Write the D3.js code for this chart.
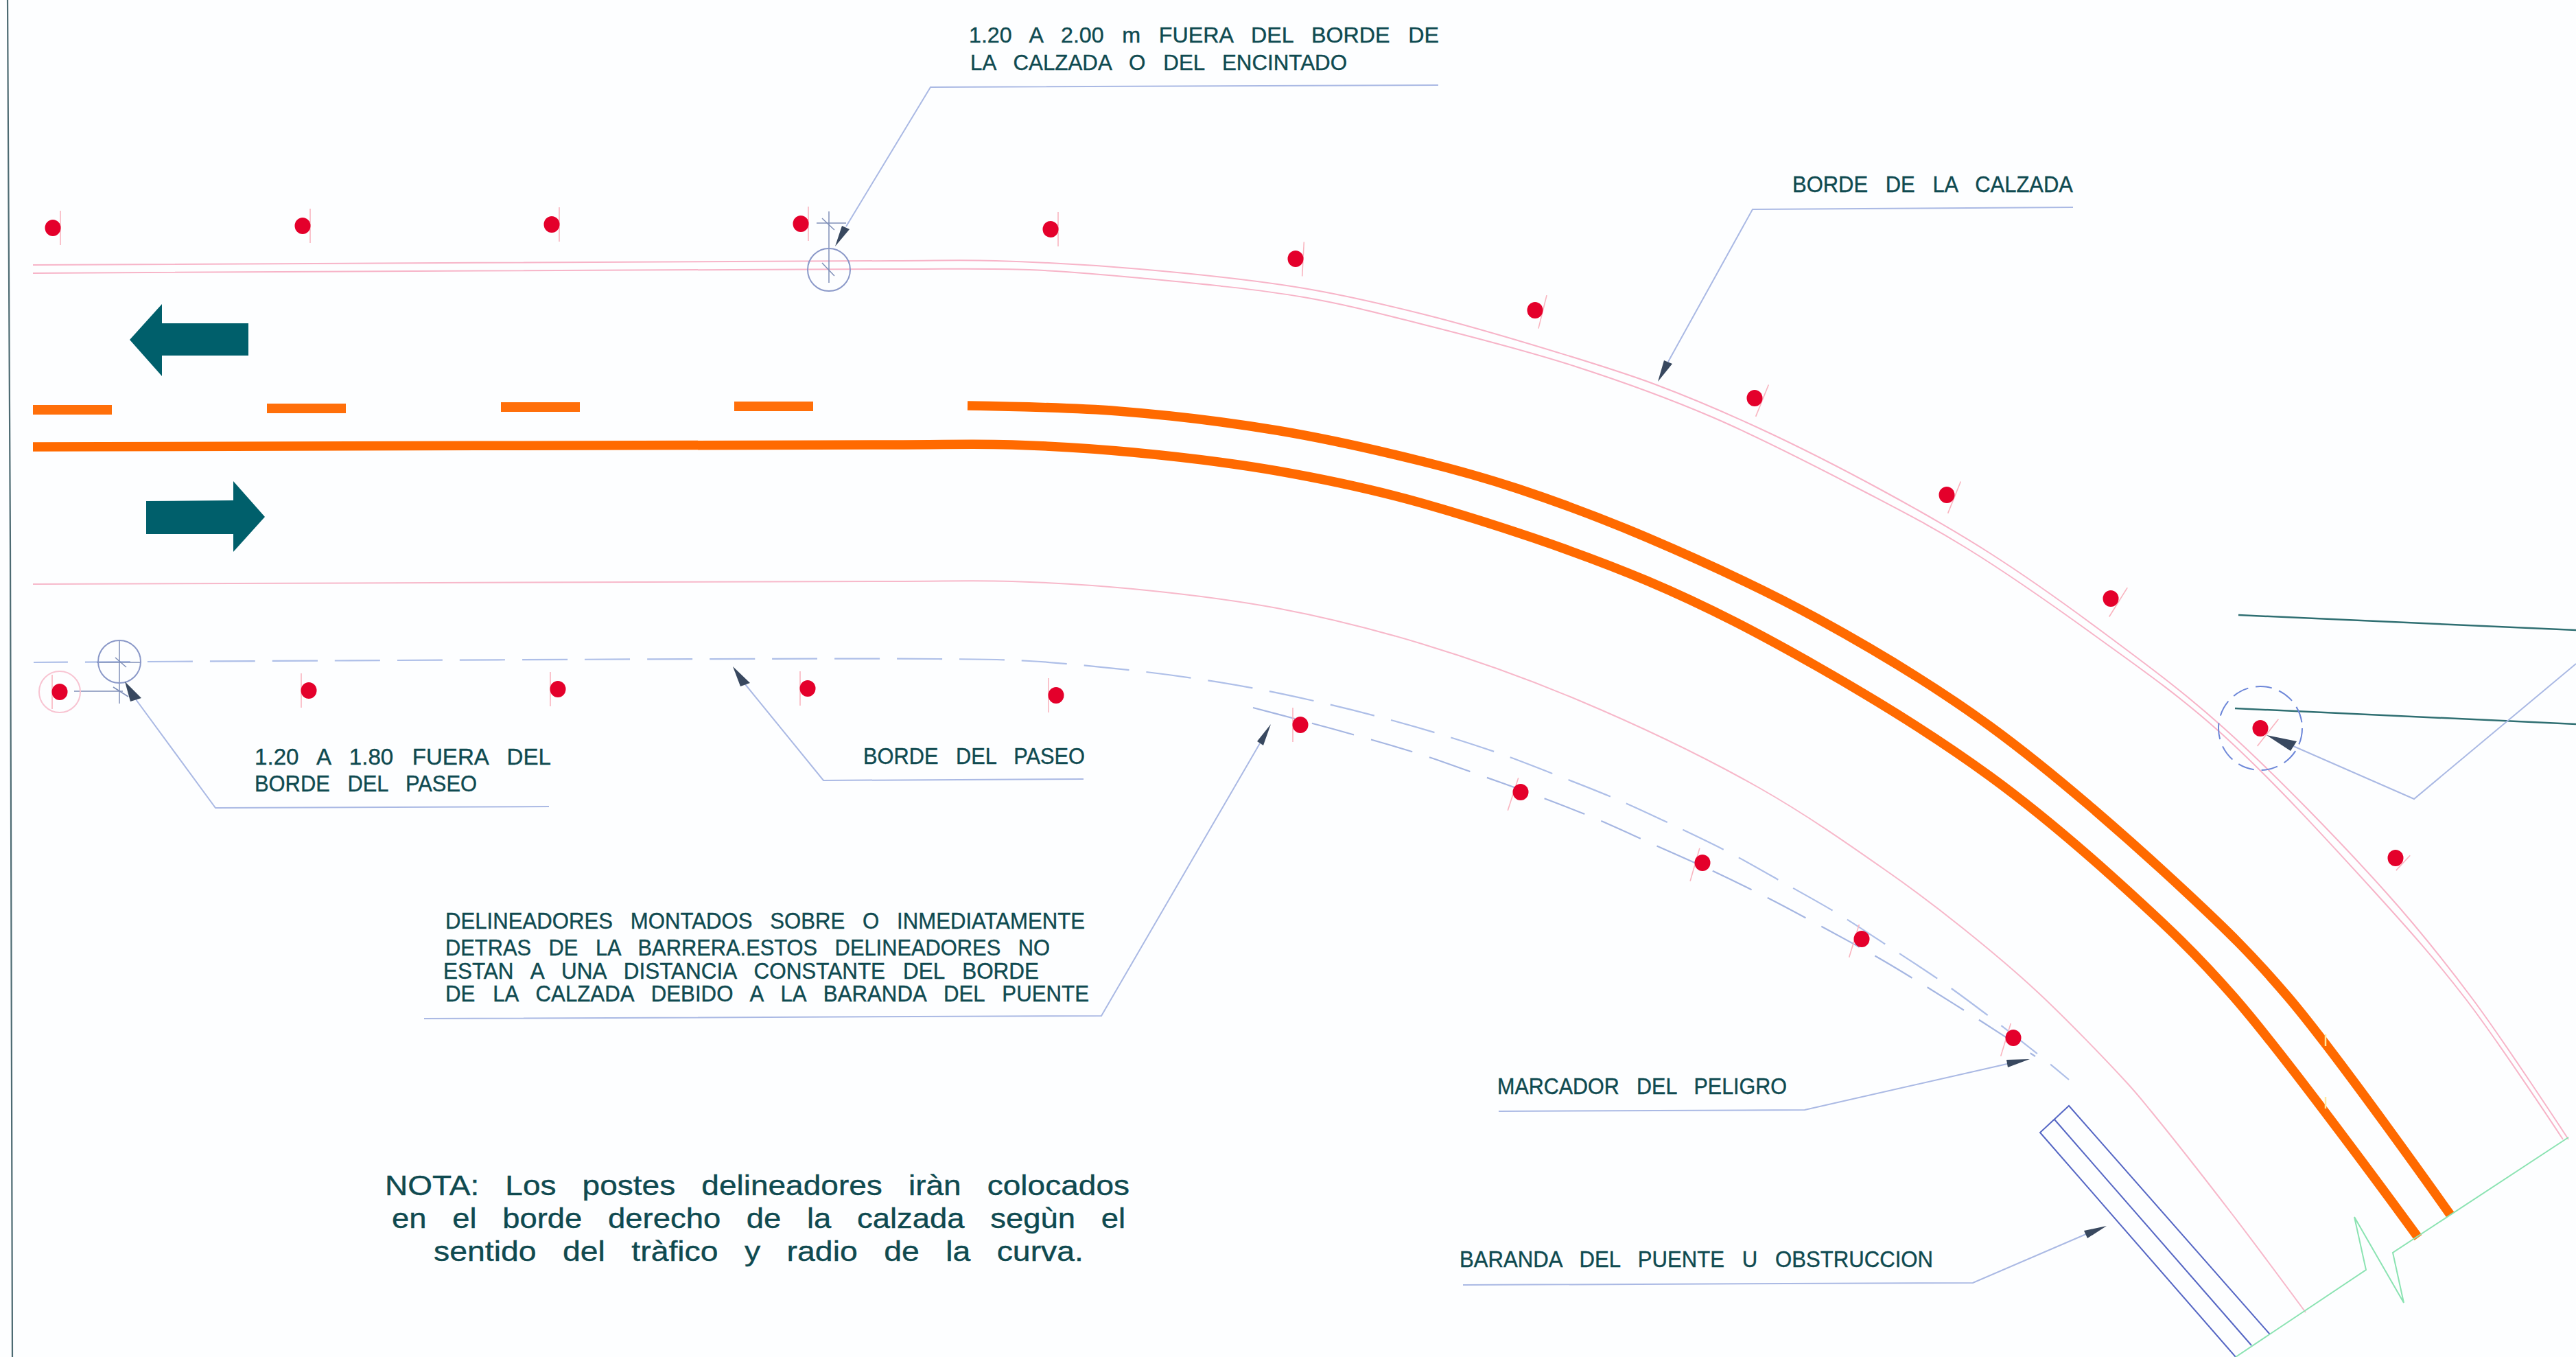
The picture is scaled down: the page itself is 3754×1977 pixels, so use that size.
<!DOCTYPE html>
<html>
<head>
<meta charset="utf-8">
<script src="https://cdn.jsdelivr.net/npm/d3@7"></script>
<style>
html, body { margin: 0; padding: 0; background: #fdfeff; }
svg { display: block; }
</style>
</head>
<body>
<script>
const width = 3754, height = 1977;

// plan readings, taken in picture pixels off the drawing
// [x, y] along the road
const edgeOuterA = [[48,386],[1300,380],[1451,380],[1661,392],[1900,420],[2075,458],[2265,512],[2412,560],[2566,625],[2742,714],[2900,806],[3070,925],[3240,1060],[3477,1300],[3603,1455],[3743,1660]];
const edgeOuterB = [[48,398],[1300,392],[1500,393],[1661,405],[1900,433],[2075,473],[2293,533],[2496,608],[2728,722],[2865,798],[3050,924],[3232,1064],[3461,1300],[3593,1455],[3735,1660]];
const edgeInner = [[48,851],[1300,847],[1475,847],[1651,858],[1861,886],[2072,938],[2300,1020],[2564,1148],[2751,1270],[2860,1352],[2969,1445],[3100,1578],[3134,1618],[3253,1769],[3360,1912]];
const centreUpper = [[1410,591],[1630,599],[1861,627],[2072,672],[2212,712],[2400,783],[2650,902],[2900,1058],[3186,1300],[3334,1452],[3571,1770]];
const centreLower = [[48,651],[1300,648],[1475,648],[1651,659],[1861,686],[2072,733],[2400,846],[2650,972],[2900,1131],[3100,1297],[3255,1452],[3524,1803]];
const paseoUpper = [[49,965],[1367,960],[1500,963],[1653,977],[1745,989],[1834,1004],[1923,1023],[2012,1045],[2100,1070],[2186,1098],[2270,1130],[2355,1164],[2438,1202],[2520,1242],[2599,1286],[2678,1331],[2754,1380],[2831,1431],[2903,1484],[2975,1540],[3015,1573]];
const paseoLower = [[1826,1031],[1883,1046],[1982,1073],[2070,1099],[2156,1129],[2242,1160],[2326,1193],[2409,1230],[2492,1267],[2576,1308],[2655,1350],[2735,1394],[2813,1441],[2889,1489],[2966,1539]];

// dashes of the centre line
const dashStart = [48, 389, 730, 1070];
const dashEnd = [163, 504, 845, 1185];
const dashY = [597, 595, 593, 592];

// delineators, tilt in degrees of the little post
const topPostX = [77, 441, 804, 1167, 1531, 1888, 2237, 2557, 2837, 3076, 3294, 3491];
const topPostY = [332, 329, 327, 326, 334, 377, 452, 580, 721, 872, 1061, 1250];
const topPostTilt = [0, 0, 0, 0, 0, 3, 14, 22, 22, 32, 38, 43];
const lowPostX = [87, 450, 813, 1177, 1539, 1895, 2216, 2481, 2713, 2934];
const lowPostY = [1008, 1006, 1004, 1003, 1013, 1056, 1154, 1257, 1368, 1512];
const lowPostTilt = [0, 0, 0, 0, 0, 0, 18, 16, 17, 17];

// bridge rail and end of the plan
const railOuter = [[3258,1977],[2973,1650],[3015,1611],[3308,1944]];
const railMiddle = [[2994,1631],[3281,1960]];
const breakLine = [[3258,1977],[3448,1850],[3431,1773],[3503,1898],[3487,1825],[3743,1657]];
const frameLine = [[11,0],[15,800],[18,1977]];
const tealLines = [[[3262,896],[3754,918]], [[3257,1032],[3754,1055]]];
const orangeCuts = [[[3389,1507],[3389,1524]], [[3389,1598],[3389,1615]]];

const arrowLeft = [[189,495],[236,443],[236,471],[362,471],[362,518],[236,518],[236,548]];
const arrowRight = [[213,730],[340,729],[340,701],[386,753],[340,804],[340,778],[213,778]];

// leaders
const leaders = [
  [[2096,124],[1356,127],[1233,330]],
  [[3021,302],[2554,305],[2431,527]],
  [[800,1175],[314,1177],[198,1019]],
  [[1579,1135],[1200,1137],[1086,997]],
  [[618,1484],[1605,1480],[1836,1083]],
  [[2184,1619],[2630,1617],[2925,1550]],
  [[2132,1872],[2875,1869],[3040,1798]],
  [[3342,1087],[3518,1164],[3754,967]]
];
const leaderHeads = [
  [[1217,359],[1227,329],[1238,334]],
  [[2416,556],[2425,525],[2437,530]],
  [[182,993],[190,1022],[206,1017]],
  [[1068,971],[1079,1000],[1093,995]],
  [[1852,1055],[1832,1080],[1841,1086]],
  [[2958,1543],[2924,1544],[2926,1555]],
  [[3070,1786],[3037,1793],[3042,1804]],
  [[3303,1071],[3347,1080],[3338,1094]]
];

// construction marks round the posts
const crossLines = [
  [[1208,308],[1208,412]], [[1190,325],[1233,325]], [[1198,318],[1216,335]], [[1198,383],[1216,402]],
  [[174,934],[174,1025]], [[141,965],[206,965]], [[168,958],[184,972]], [[108,1007],[179,1007]], [[165,1001],[187,1015]]
];
const markCircles = [[1208, 393, 31], [174, 964, 31]];

const labels = [
  "1.20 A 2.00 m FUERA DEL BORDE DE", "LA CALZADA O DEL ENCINTADO", "BORDE DE LA CALZADA",
  "1.20 A 1.80 FUERA DEL", "BORDE DEL PASEO", "BORDE DEL PASEO",
  "DELINEADORES MONTADOS SOBRE O INMEDIATAMENTE", "DETRAS DE LA BARRERA.ESTOS DELINEADORES NO",
  "ESTAN A UNA DISTANCIA CONSTANTE DEL BORDE", "DE LA CALZADA DEBIDO A LA BARANDA DEL PUENTE",
  "MARCADOR DEL PELIGRO", "BARANDA DEL PUENTE U OBSTRUCCION",
  "NOTA: Los postes delineadores iràn colocados", "en el borde derecho de la calzada segùn el", "sentido del tràfico y radio de la curva."
];
const labelStart = [1412, 1414, 2612, 371, 371, 1258, 649, 649, 646, 649, 2182, 2127, 561, 571, 632];
const labelEnd = [2097, 1963, 3021, 803, 695, 1581, 1581, 1530, 1514, 1587, 2604, 2817, 1646, 1640, 1579];
const labelBase = [62, 102, 280, 1114, 1153, 1113, 1353, 1392, 1426, 1459, 1594, 1846, 1741, 1789, 1837];
const labelCap = [31, 31, 34, 34, 34, 34, 33, 33, 33, 33, 33, 33, 41, 41, 41];

const x = d3.scaleLinear().domain([0, 3754]).range([0, width]);
const y = d3.scaleLinear().domain([0, 1977]).range([0, height]);

const svg = d3.select("body").append("svg")
  .attr("width", width)
  .attr("height", height)
  .style("background", "#fdfeff");

const curve = d3.line().x(d => x(d[0])).y(d => y(d[1])).curve(d3.curveCatmullRom.alpha(0.5));
const straight = d3.line().x(d => x(d[0])).y(d => y(d[1]));

function drawPath(gen, pts, color, w, dash) {
  let p = svg.append("path")
    .attr("d", gen(pts))
    .attr("fill", "none")
    .attr("stroke", color)
    .attr("stroke-width", w);
  if (dash) p.attr("stroke-dasharray", dash);
  return p;
}

drawPath(straight, frameLine, "#4c6a72", 2.2);

// road edges
drawPath(curve, edgeOuterA, "#f7b4c8", 2);
drawPath(curve, edgeOuterB, "#f7b4c8", 2);
drawPath(curve, edgeInner, "#f7b8ca", 2);

// shoulder dashed
drawPath(curve, paseoUpper, "#aebfe8", 2.2, "66 25").attr("stroke-dashoffset", 16);
drawPath(curve, paseoLower, "#a5b6e2", 2.2, "63 26");

// centre lines
drawPath(curve, centreUpper, "#ff6a00", 13.5);
drawPath(curve, centreLower, "#ff6a00", 13.5);
dashStart.forEach((d, i) => {
  drawPath(straight, [[d, dashY[i]], [dashEnd[i], dashY[i]]], "#ff6f0a", 14);
});
orangeCuts.forEach(c => drawPath(straight, c, "#ffe9a0", 2.5));

// direction arrows
[arrowLeft, arrowRight].forEach(a => {
  svg.append("path").attr("d", straight(a) + "Z").attr("fill", "#005f6b");
});

// rail and break line
drawPath(straight, railOuter, "#5566c4", 2);
drawPath(straight, railMiddle, "#5566c4", 2);
drawPath(straight, breakLine, "#8be3b2", 2);

// teal lines on the right
tealLines.forEach(t => drawPath(straight, t, "#2f6f72", 2.5));

// marks round posts
crossLines.forEach(c => drawPath(straight, c, "#7f8fb8", 1.5));
markCircles.forEach(c => {
  svg.append("circle")
    .attr("cx", x(c[0])).attr("cy", y(c[1])).attr("r", c[2])
    .attr("fill", "none").attr("stroke", "#8a98c8").attr("stroke-width", 2);
});
svg.append("circle")
  .attr("cx", x(87)).attr("cy", y(1008)).attr("r", 30)
  .attr("fill", "none").attr("stroke", "#f8c4d2").attr("stroke-width", 2);
svg.append("circle")
  .attr("cx", x(3294)).attr("cy", y(1061)).attr("r", 61)
  .attr("fill", "none").attr("stroke", "#6c86d8").attr("stroke-width", 2)
  .attr("stroke-dasharray", "24 11");

// leaders
leaders.forEach(l => drawPath(straight, l, "#aab9e4", 2));
leaderHeads.forEach(h => {
  svg.append("path").attr("d", straight(h) + "Z").attr("fill", "#38485f");
});

// delineators: post tick then the red dot
function drawPosts(xs, ys, tilts, side) {
  xs.forEach((px, i) => {
    let a = tilts[i] * Math.PI / 180;
    let cx = px + side * 11;
    let cy = ys[i] + tilts[i] / 6;
    let len = i == xs.length - 1 && side > 0 ? 15 : 25;
    svg.append("line")
      .attr("x1", x(cx + Math.sin(a) * len)).attr("y1", y(cy - Math.cos(a) * len))
      .attr("x2", x(cx - Math.sin(a) * len)).attr("y2", y(cy + Math.cos(a) * len))
      .attr("stroke", "#f9b4bf").attr("stroke-width", 1.6);
    svg.append("ellipse")
      .attr("cx", x(px)).attr("cy", y(ys[i]))
      .attr("rx", 11.5).attr("ry", 12)
      .attr("fill", "#e4002b");
  });
}
drawPosts(topPostX, topPostY, topPostTilt, 1);
drawPosts(lowPostX, lowPostY, lowPostTilt, -1);

// text
labels.forEach((t, i) => {
  svg.append("text")
    .attr("x", x(labelStart[i]))
    .attr("y", y(labelBase[i]))
    .attr("textLength", x(labelEnd[i]) - x(labelStart[i]))
    .attr("lengthAdjust", "spacingAndGlyphs")
    .attr("font-family", "'Liberation Sans Narrow', 'Liberation Sans', sans-serif")
    .attr("font-size", labelCap[i])
    .style("word-spacing", "0.55em")
    .attr("fill", "#0f4a50")
    .attr("stroke", "#0f4a50")
    .attr("stroke-width", 0.4)
    .text(t);
});
</script>
</body>
</html>
